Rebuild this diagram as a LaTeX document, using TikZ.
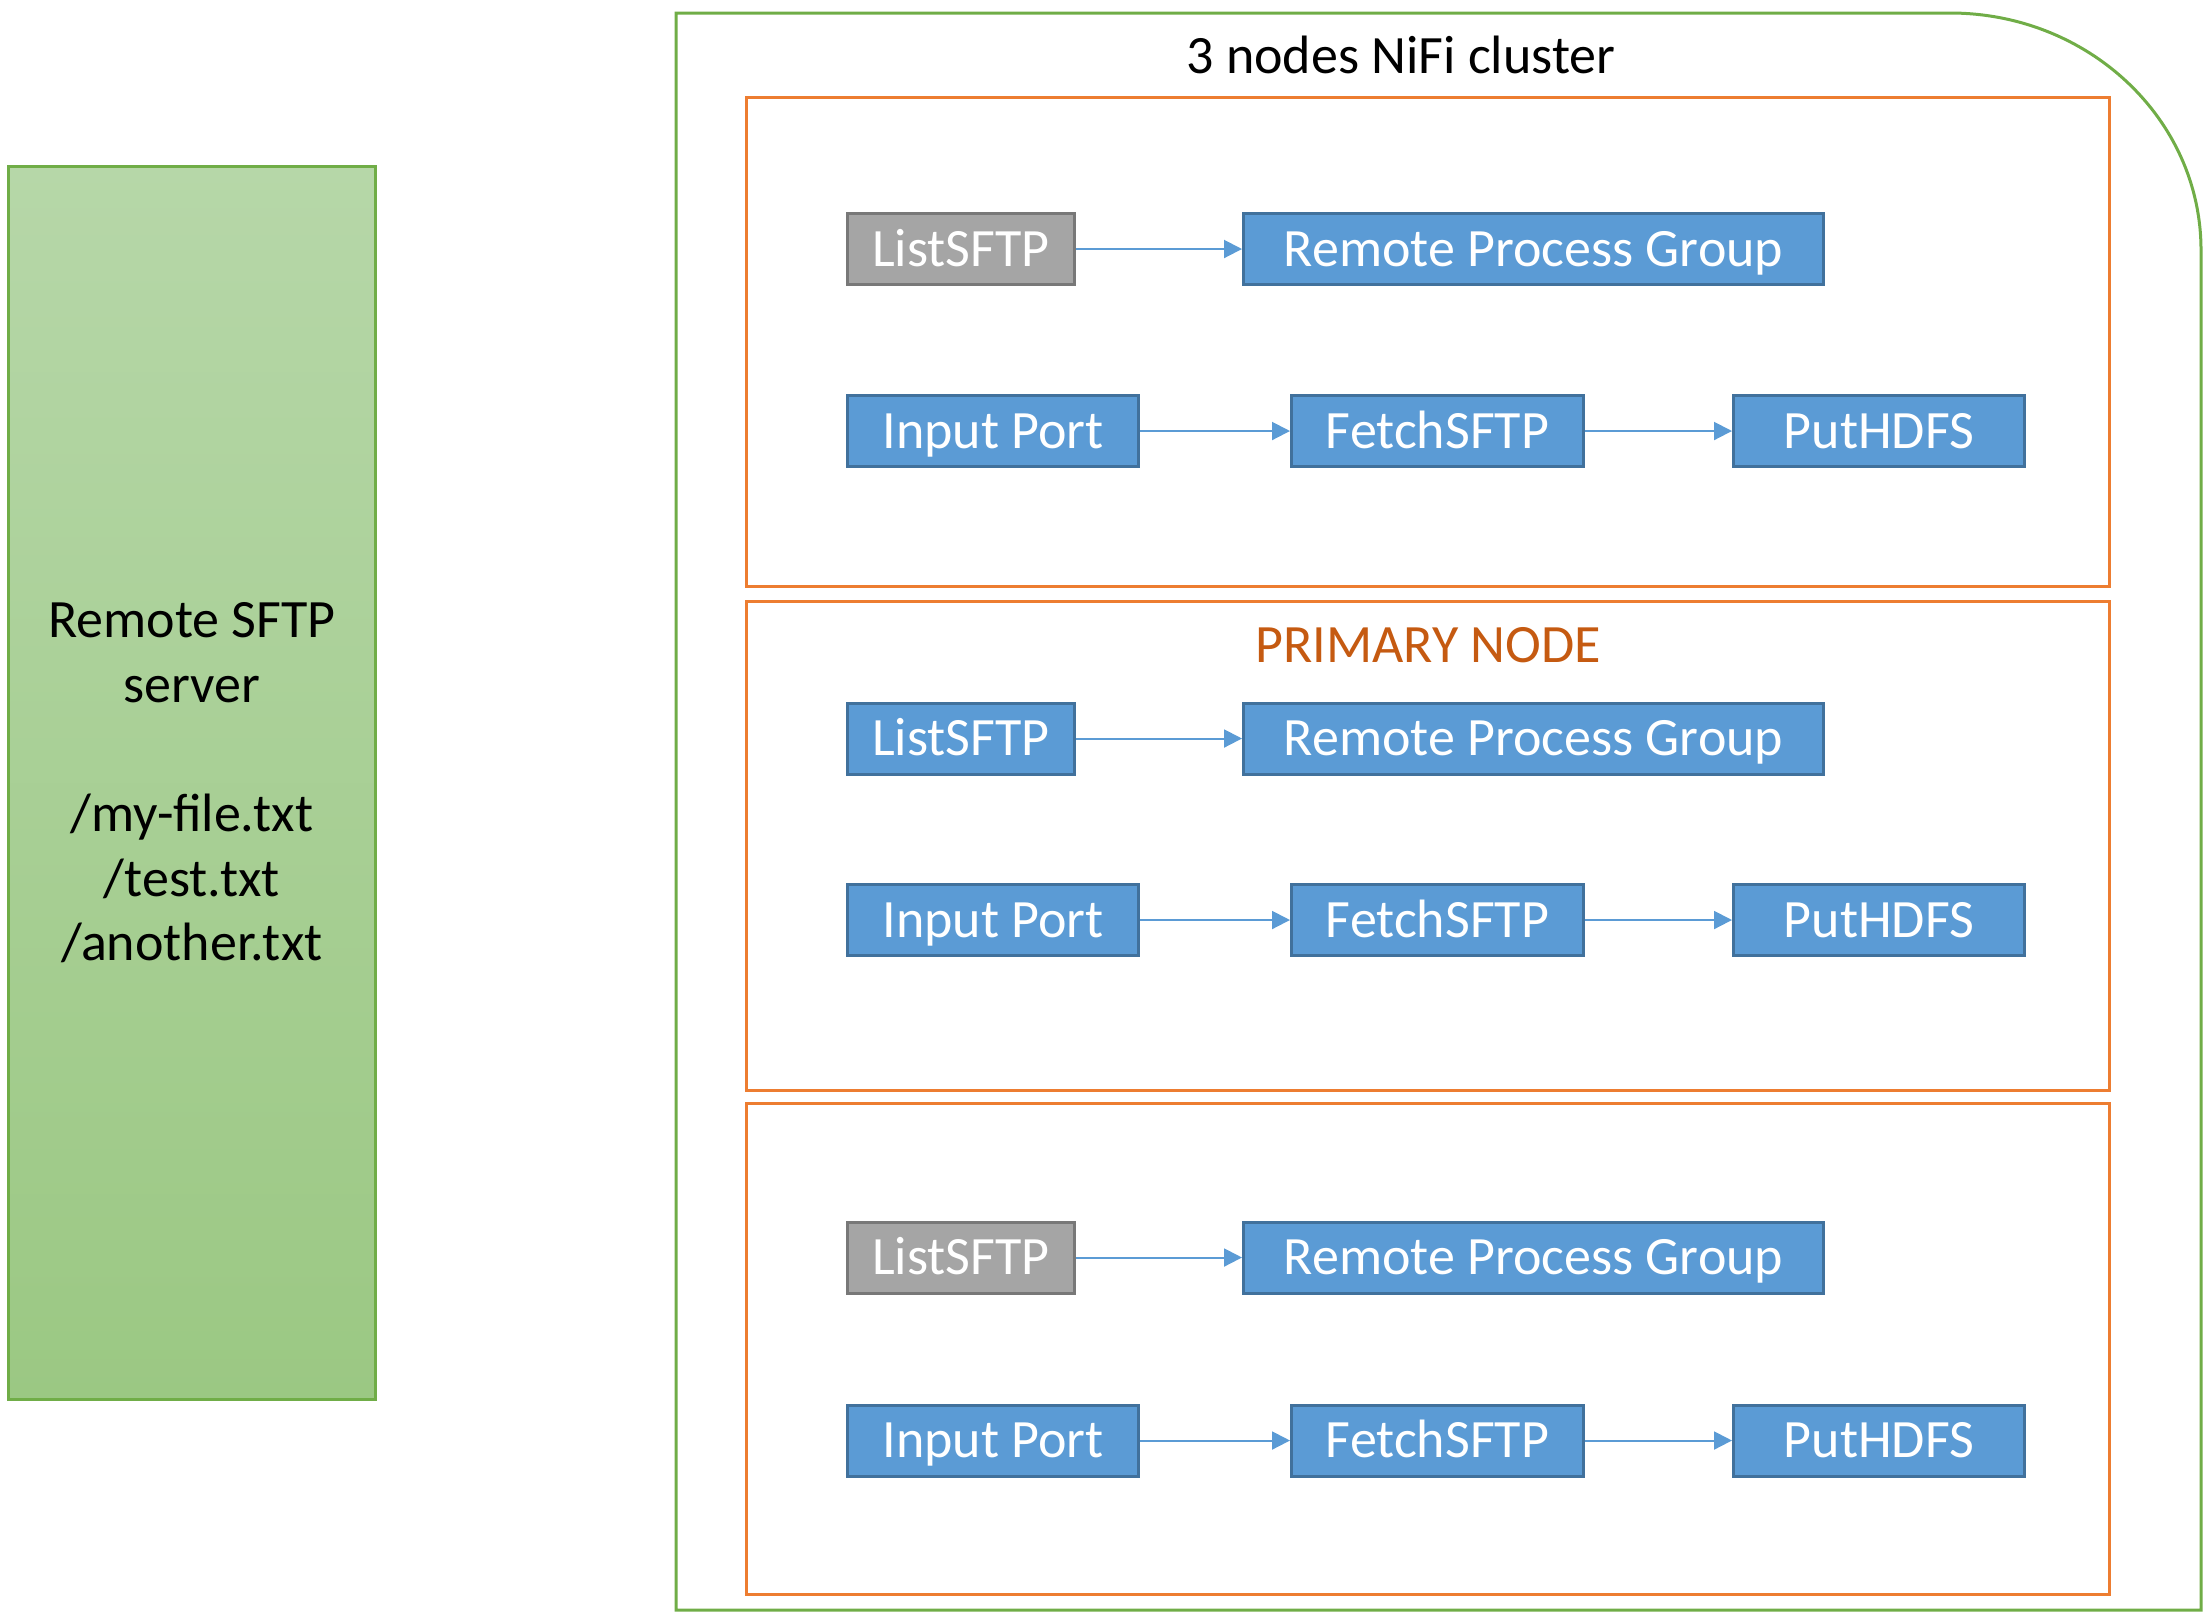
\documentclass[tikz,border=0pt]{standalone}
\usepackage{fontspec}
\setmainfont{Carlito}
\usetikzlibrary{arrows.meta}
\definecolor{grnline}{HTML}{70AD47}
\definecolor{grntop}{HTML}{B6D7A8}
\definecolor{grnbot}{HTML}{9BC883}
\definecolor{orng}{HTML}{ED7D31}
\definecolor{orngtxt}{HTML}{C55A11}
\definecolor{bluefill}{HTML}{5B9BD5}
\definecolor{blueline}{HTML}{41719C}
\definecolor{grayfill}{HTML}{A5A5A5}
\definecolor{grayline}{HTML}{787878}
\tikzset{
  proc/.style={draw=blueline, fill=bluefill, line width=1.5pt, text=white,
    font=\fontsize{27pt}{30pt}\selectfont, inner sep=0pt, minimum height=35.5pt,
    text height=17pt, text depth=0pt},
  procgray/.style={proc, draw=grayline, fill=grayfill},
  flow/.style={draw=bluefill, line width=1pt, -{Triangle[length=9pt,width=9pt]}},
  nodebox/.style={draw=orng, line width=1.5pt},
  lbl/.style={font=\fontsize{27pt}{30pt}\selectfont, anchor=base, inner sep=0pt}
}
\begin{document}
\begin{tikzpicture}[x=0.5pt,y=-0.5pt]
\useasboundingbox (0,0) rectangle (2210,1614);
% Remote SFTP server
\node[draw=grnline, line width=1.5pt, top color=grntop, bottom color=grnbot,
  minimum width=183.5pt, minimum height=616.5pt, inner sep=0pt, align=center,
  font=\fontsize{27pt}{32.3pt}\selectfont] (server) at (192,783)
  {Remote SFTP\\server\\ \\/my-file.txt\\/test.txt\\/another.txt};
% cluster
\draw[draw=grnline, line width=1.5pt] (676,13) -- (1950,13)
  .. controls (2088.6,13) and (2201,119.1) .. (2201,250) -- (2201,1610) -- (676,1610) -- cycle;
\node[lbl] (title) at (1401,73) {3 nodes NiFi cluster};
% node boxes
\draw[nodebox] (746,97) rectangle (2109,586);
\draw[nodebox] (746,601) rectangle (2109,1090);
\draw[nodebox] (746,1103) rectangle (2109,1594);
\node[lbl, text=orngtxt] (primary) at (1428,662) {PRIMARY NODE};
% node 1
\node[procgray, minimum width=113.5pt] (ls1) at (961,249) {ListSFTP};
\node[proc, minimum width=290pt] (rpg1) at (1533.5,249) {Remote Process Group};
\node[proc, minimum width=145.5pt] (ip1) at (993,431) {Input Port};
\node[proc, minimum width=146pt] (fs1) at (1437.5,431) {FetchSFTP};
\node[proc, minimum width=145.5pt] (ph1) at (1879,431) {PutHDFS};
% node 2 (primary)
\node[proc, minimum width=113.5pt] (ls2) at (961,738.5) {ListSFTP};
\node[proc, minimum width=290pt] (rpg2) at (1533.5,738.5) {Remote Process Group};
\node[proc, minimum width=145.5pt] (ip2) at (993,920) {Input Port};
\node[proc, minimum width=146pt] (fs2) at (1437.5,920) {FetchSFTP};
\node[proc, minimum width=145.5pt] (ph2) at (1879,920) {PutHDFS};
% node 3
\node[procgray, minimum width=113.5pt] (ls3) at (961,1257.5) {ListSFTP};
\node[proc, minimum width=290pt] (rpg3) at (1533.5,1257.5) {Remote Process Group};
\node[proc, minimum width=145.5pt] (ip3) at (993,1440.5) {Input Port};
\node[proc, minimum width=146pt] (fs3) at (1437.5,1440.5) {FetchSFTP};
\node[proc, minimum width=145.5pt] (ph3) at (1879,1440.5) {PutHDFS};
% connectors
\foreach \i in {1,2,3}{
  \draw[flow] (ls\i) -- (rpg\i);
  \draw[flow] (ip\i) -- (fs\i);
  \draw[flow] (fs\i) -- (ph\i);
}
\end{tikzpicture}
\end{document}
